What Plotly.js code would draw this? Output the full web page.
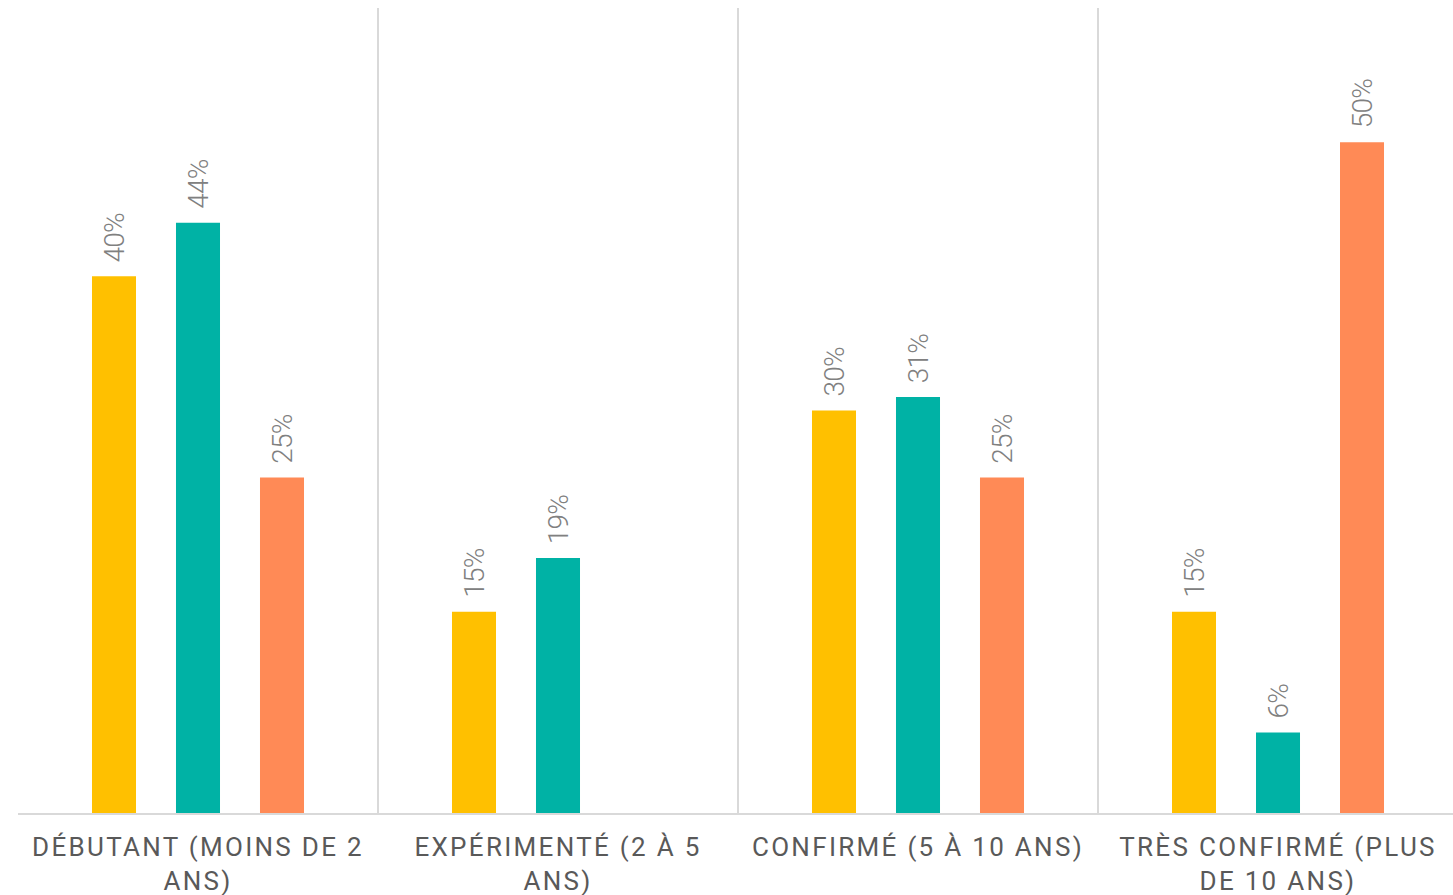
<!DOCTYPE html>
<html>
<head>
<meta charset="utf-8">
<script src="https://cdn.plot.ly/plotly-3.0.1.min.js"></script>
<style>
html,body{margin:0;padding:0;background:#fff;}
#chart{width:1453px;height:895px;}
.xtick text{letter-spacing:2.3px;}
.bartext{letter-spacing:-0.8px;}
</style>
</head>
<body>
<div id="chart"></div>
<script>
const categories = [
  "DÉBUTANT (MOINS DE 2<br>ANS)",
  "EXPÉRIMENTÉ (2 À 5<br>ANS)",
  "CONFIRMÉ (5 À 10 ANS)",
  "TRÈS CONFIRMÉ (PLUS<br>DE 10 ANS)"
];
const seriesYellow = [40, 15, 30, 15];
const seriesTeal = [44, 19, 31, 6];
const seriesOrange = [25, null, 25, 50];
const seriesColors = ["#FFC000", "#00B2A5", "#FF8A56"];

const labelFont = {family: "Roboto, 'Liberation Sans', sans-serif", size: 28, weight: 300, color: "#808080"};

function barTrace(values, color) {
  return {
    type: "bar",
    x: categories,
    y: values,
    marker: {color: color},
    text: values.map(v => v == null ? "" : v + "%"),
    texttemplate: "\u00A0\u2009%{text}",
    textposition: "outside",
    textangle: -90,
    constraintext: "none",
    cliponaxis: false,
    textfont: labelFont,
    hoverinfo: "skip"
  };
}

const data = [
  barTrace(seriesYellow, seriesColors[0]),
  barTrace(seriesTeal, seriesColors[1]),
  barTrace(seriesOrange, seriesColors[2])
];

const layout = {
  width: 1453,
  height: 895,
  margin: {l: 18, r: 0, t: 8, b: 82},
  paper_bgcolor: "#fff",
  plot_bgcolor: "#fff",
  showlegend: false,
  barmode: "group",
  bargap: 0.3,
  bargroupgap: 0.476,
  xaxis: {
    type: "category",
    range: [-0.5, 3.4861],
    tickson: "boundaries",
    showgrid: true,
    gridcolor: "#d9d9d9",
    gridwidth: 1.5,
    showline: true,
    linecolor: "#d9d9d9",
    linewidth: 2,
    ticks: "",
    ticklabelstandoff: 10,
    tickfont: {family: "Roboto, 'Liberation Sans', sans-serif", size: 26, weight: 400, color: "#595959"},
    fixedrange: true
  },
  yaxis: {
    range: [0, 60],
    showgrid: false,
    zeroline: false,
    showticklabels: false,
    showline: false,
    fixedrange: true
  }
};

Plotly.newPlot("chart", data, layout, {displayModeBar: false, staticPlot: true});
</script>
</body>
</html>
